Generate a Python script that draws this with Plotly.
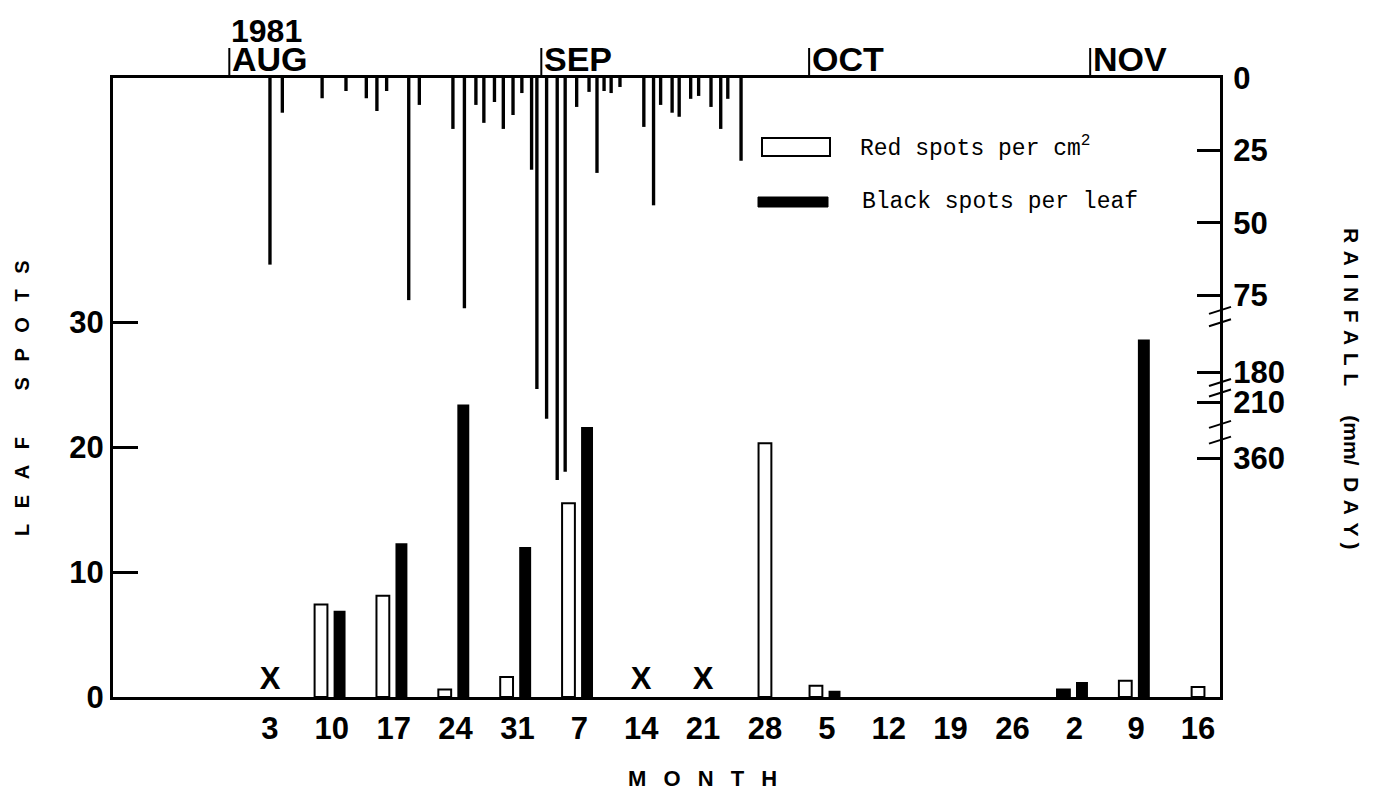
import numpy as np
import plotly.graph_objects as go

# ---------------- data ----------------
# sampling dates, expressed as days after 1 Aug 1981, with their tick labels
week_day = [2, 9, 16, 23, 30, 37, 44, 51, 58, 65, 72, 79, 86, 93, 100, 107]
week_label = ['3', '10', '17', '24', '31', '7', '14', '21', '28',
              '5', '12', '19', '26', '2', '9', '16']

# leaf spots (None = not sampled, marked with X)
red_spots = [None, 7.4, 8.1, 0.6, 1.6, 15.5, None, None, 20.3,
             0.9, 0, 0, 0, 0.6, 1.3, 0.8]
black_spots = [None, 6.9, 12.3, 23.4, 12.0, 21.6, None, None, 0,
               0.5, 0, 0, 0, 1.2, 28.6, 0]
missing_day = [2, 44, 51]

# daily rainfall (mm/day), position in days after 1 Aug
rain_day = [2.0, 3.4, 7.9, 10.6, 12.9, 14.1, 15.2, 17.7, 18.9, 22.7,
            24.0, 25.3, 26.2, 27.4, 28.4, 29.5, 30.5, 31.6, 32.2, 33.3,
            34.5, 35.4, 36.7, 38.1, 39.0, 39.8, 40.6, 41.6, 44.3, 45.4,
            46.2, 47.5, 48.3, 49.6, 50.5, 51.9, 53.0, 53.8, 55.3]
rain_mm = [64.5, 12, 7, 4.5, 7, 11.4, 4.5, 82, 9.3, 17.6,
           93, 9.3, 15.5, 8.3, 17.6, 12.8, 5.2, 31.7, 197, 255,
           419, 397, 10, 4.8, 32.8, 4.5, 5.2, 3.1, 16.9, 44,
           9.3, 12, 13.4, 7.2, 6.2, 10, 17.6, 7.2, 28.6]

rain_tick = [0, 25, 50, 75, 180, 210, 360]

month_day = [-2.6, 32.7, 63.0, 94.8]
month_label = ['AUG', 'SEP', 'OCT', 'NOV']
year_label = '1981'

# ---------------- broken rainfall scale ----------------
scale_mm = [0, 75, 180, 210, 360, 600]
scale_u = [0, 217, 294, 324, 380, 469.6]


def rain_u(v):
    return list(np.interp(v, scale_mm, scale_u))


breaks = [(75, 180, (0.2, 0.36)), (180, 210, (0.35, 0.7)), (210, 360, (0.4, 0.68))]

# ---------------- geometry ----------------
OFF = 8                      # default page margin of the html body
W, H = 1374 - 2 * OFF, 791 - OFF
ML, MT = 113 - OFF, 78 - OFF
MR = W - (1220 - OFF)
MB = H - (697 - OFF)
PW, PH = W - ML - MR, H - MT - MB
XR = [-15.76, 109.49]
YR = [0, PH / 12.5]

FONT = 'Liberation Sans, Arial, sans-serif'
DIGIT = dict(family=FONT, size=31, color='black', weight='bold')
BLK = 'black'

fig = go.Figure()

has_black = [b is not None and b > 0 for b in black_spots]
red_offset = [-1.95 if hb else -0.72 for hb in has_black]
red_fill = ['black' if lab == '2' else 'white' for lab in week_label]
red_line = [2 if (v is not None and v > 0) else 0 for v in red_spots]

fig.add_trace(go.Bar(
    x=week_day, y=red_spots, width=1.45, offset=red_offset,
    marker=dict(color=red_fill, line=dict(color=BLK, width=red_line)),
    name='Red spots per cm²', yaxis='y', hoverinfo='skip'))
fig.add_trace(go.Bar(
    x=week_day, y=black_spots, width=1.35, offset=0.2,
    marker=dict(color=BLK, line=dict(width=0)),
    name='Black spots per leaf', yaxis='y', hoverinfo='skip'))
fig.add_trace(go.Scatter(
    x=missing_day, y=[0] * len(missing_day), mode='text', text=['X'] * len(missing_day),
    textposition='top center', textfont=dict(family=FONT, size=31, color=BLK, weight='bold'),
    cliponaxis=False, yaxis='y', hoverinfo='skip'))
fig.add_trace(go.Bar(
    x=rain_day, y=rain_u(rain_mm), base=0, width=0.38,
    marker=dict(color=BLK, line=dict(width=0)),
    name='Rainfall', yaxis='y2', hoverinfo='skip'))


def px_x(p):
    return (p - OFF - ML) / PW


def px_y(p):
    return (H - MB - (p - OFF)) / PH


shapes = []
# month markers above the frame
for m in month_day:
    shapes.append(dict(type='line', xref='x', yref='paper', x0=m, x1=m,
                       y0=1, y1=1 + 30 / PH, line=dict(color=BLK, width=2)))
# axis break marks on the rainfall axis
dx = 11 / PW
for lo, hi, fr in breaks:
    ulo, uhi = rain_u([lo, hi])
    for f in fr:
        uc = ulo + f * (uhi - ulo)
        shapes.append(dict(type='line', xref='paper', yref='y2',
                           x0=1 - dx, x1=1 + dx, y0=uc + 3.5, y1=uc - 3.5,
                           line=dict(color=BLK, width=2)))

# legend keys
shapes.append(dict(type='rect', xref='paper', yref='paper',
                   x0=px_x(762), x1=px_x(830), y0=px_y(156), y1=px_y(138),
                   line=dict(color=BLK, width=2), fillcolor='white'))
shapes.append(dict(type='rect', xref='paper', yref='paper',
                   x0=px_x(758), x1=px_x(828), y0=px_y(207), y1=px_y(197),
                   line=dict(color=BLK, width=1), fillcolor=BLK))

MONO = dict(family='Liberation Mono, Courier New, monospace', size=23, color=BLK)
MONTHF = dict(family=FONT, size=34, color=BLK, weight='bold')
TITLEF = dict(family=FONT, size=20, color=BLK, weight='bold')

ann = []
for m, lab in zip(month_day, month_label):
    ann.append(dict(x=m, y=1, xref='x', yref='paper', text=lab, showarrow=False,
                    xanchor='left', yanchor='bottom', xshift=1, yshift=-2, font=MONTHF))
ann.append(dict(x=month_day[0], y=1, xref='x', yref='paper', text=year_label,
                showarrow=False, xanchor='left', yanchor='bottom', xshift=1, yshift=28,
                borderpad=0, font=dict(family=FONT, size=32, color=BLK, weight='bold')))
ann.append(dict(x=px_x(858), y=px_y(147), xref='paper', yref='paper',
                text='Red spots per cm<sup>2</sup>', showarrow=False,
                xanchor='left', yanchor='middle', font=MONO))
ann.append(dict(x=px_x(860), y=px_y(202), xref='paper', yref='paper',
                text='Black spots per leaf', showarrow=False,
                xanchor='left', yanchor='middle', font=MONO))

sep = '\u2002\u00a0'
left_title = sep.join('LEAF') + sep * 3 + sep.join('SPOTS')
ann.append(dict(x=px_x(22), y=px_y(398), xref='paper', yref='paper', text=left_title,
                textangle=-90, showarrow=False, xanchor='center', yanchor='middle',
                font=TITLEF))
nb = '\u00a0'
rsep = '\u00a0\u200a'
right_title = rsep.join('RAINFALL') + nb * 5 + '(mm/' + nb * 2 + rsep.join('DAY') + nb + ')'
ann.append(dict(x=px_x(1352), y=px_y(388), xref='paper', yref='paper', text=right_title,
                textangle=90, showarrow=False, xanchor='center', yanchor='middle',
                font=dict(family=FONT, size=21, color=BLK, weight='bold')))
ann.append(dict(x=px_x(702), y=px_y(778), xref='paper', yref='paper',
                text=sep.join('MONTH'), showarrow=False, xanchor='center',
                yanchor='middle', font=dict(family=FONT, size=22, color=BLK, weight='bold')))

fig.update_layout(
    width=W, height=H,
    margin=dict(l=ML, r=MR, t=MT, b=MB, autoexpand=False),
    paper_bgcolor='white', plot_bgcolor='white',
    barmode='overlay', showlegend=False,
    xaxis=dict(range=XR, tickvals=week_day, ticktext=week_label, ticks='',
               showline=True, linewidth=3, linecolor=BLK, mirror=True,
               showgrid=False, zeroline=False, tickfont=DIGIT, ticklabelstandoff=2),
    yaxis=dict(range=YR, tickvals=[0, 10, 20, 30], ticks='inside', ticklen=25,
               tickwidth=2.5, tickcolor=BLK, showline=True, linewidth=3, linecolor=BLK,
               showgrid=False, zeroline=False, tickfont=DIGIT),
    yaxis2=dict(overlaying='y', side='right', range=[PH, 0],
                tickvals=rain_u(rain_tick), ticktext=[str(t) for t in rain_tick],
                ticks='inside', ticklen=23, tickwidth=2.5, tickcolor=BLK,
                showline=True, linewidth=3, linecolor=BLK, showgrid=False,
                zeroline=False, tickfont=DIGIT, ticklabelstandoff=4),
    shapes=shapes, annotations=ann,
)

fig.write_html('out.html')
